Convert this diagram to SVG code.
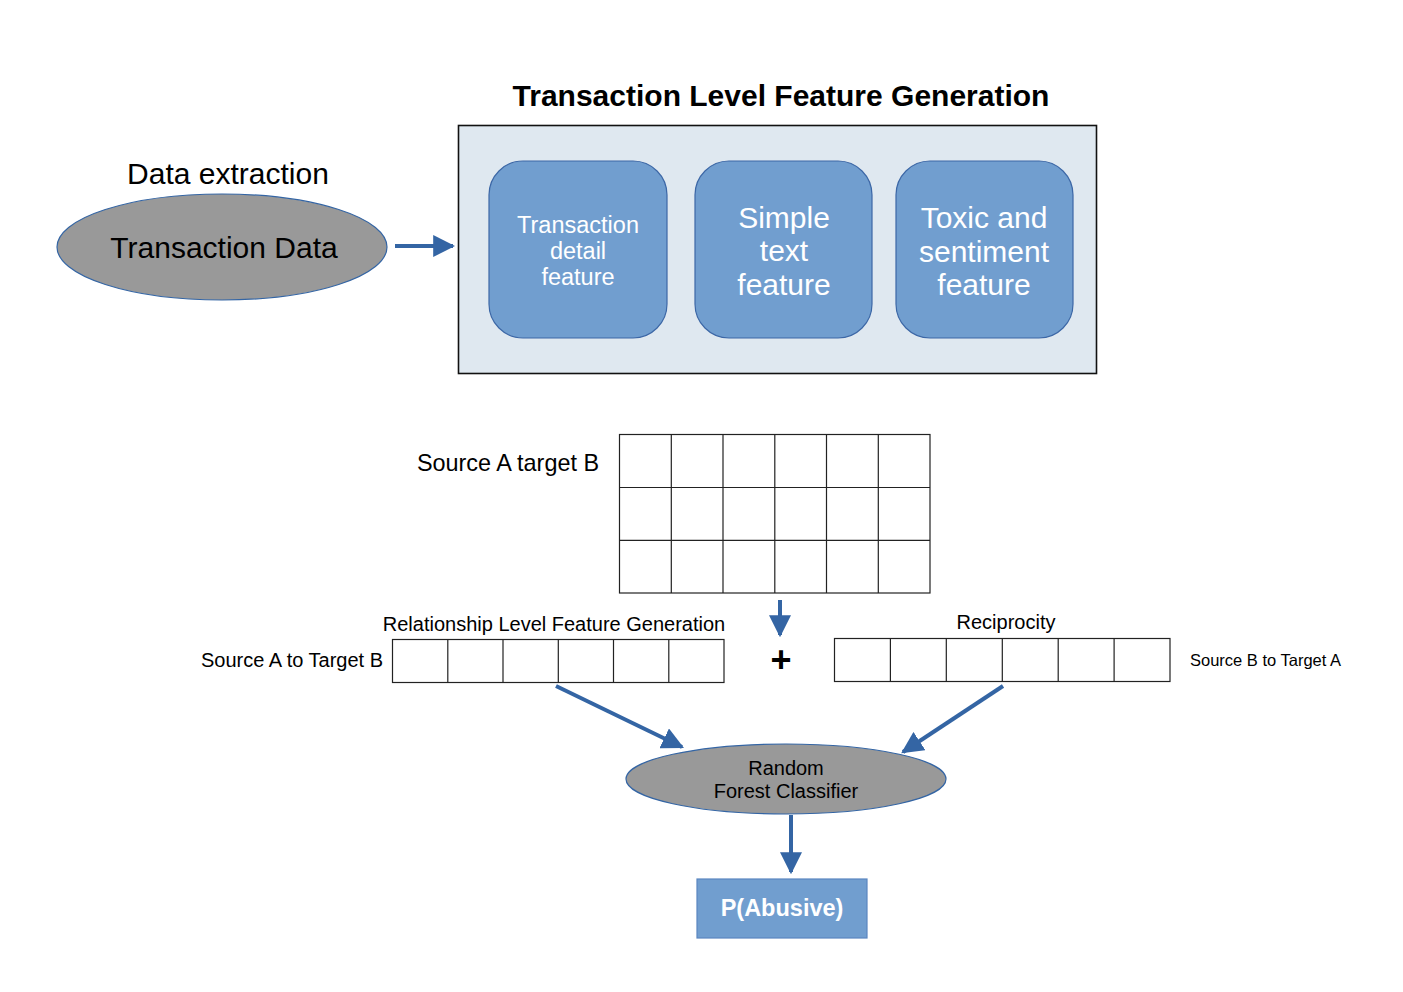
<svg xmlns="http://www.w3.org/2000/svg" width="1403" height="992" viewBox="0 0 1403 992">
<style>
text{font-family:"Liberation Sans",Arial,sans-serif;fill:#000}
.feat{fill:#719ecf;stroke:#3c67a6;stroke-width:1.2}
.wt{fill:#fff;text-anchor:middle}
.cell{fill:#fff;stroke:#222;stroke-width:1.2}
.conn{stroke:#3465a4;stroke-width:4;fill:none}
.ell{fill:#999;stroke:#3465a4;stroke-width:1.2}
</style>
<defs>
<marker id="ah" viewBox="0 0 10 10" refX="9" refY="5" markerWidth="5.5" markerHeight="5.5" markerUnits="strokeWidth" orient="auto">
<path d="M0,0 L10,5 L0,10 Z" fill="#3465a4"/>
</marker>
</defs>
<rect width="1403" height="992" fill="#fff"/>

<g id="title"><text x="781" y="106" font-size="30" font-weight="bold" text-anchor="middle">Transaction Level Feature Generation</text></g>

<g id="transaction-data">
<text x="228" y="184" font-size="30" text-anchor="middle">Data extraction</text>
<ellipse class="ell" cx="222" cy="247" rx="165" ry="53"/>
<text x="224" y="258" font-size="30" text-anchor="middle">Transaction Data</text>
</g>

<g id="feature-box">
<rect x="458.5" y="125.5" width="638" height="248" fill="#dfe8f0" stroke="#111" stroke-width="1.6"/>
</g>
<g id="feat1">
<rect class="feat" x="489" y="161" width="178" height="177" rx="34"/>
<text class="wt" font-size="23.5" x="578" y="233">Transaction</text>
<text class="wt" font-size="23.5" x="578" y="259">detail</text>
<text class="wt" font-size="23.5" x="578" y="285">feature</text>
</g>
<g id="feat2">
<rect class="feat" x="695" y="161" width="177" height="177" rx="34"/>
<text class="wt" font-size="30" x="784" y="228">Simple</text>
<text class="wt" font-size="30" x="784" y="261">text</text>
<text class="wt" font-size="30" x="784" y="295">feature</text>
</g>
<g id="feat3">
<rect class="feat" x="896" y="161" width="177" height="177" rx="34"/>
<text class="wt" font-size="30" x="984" y="228">Toxic and</text>
<text class="wt" font-size="30" x="984" y="262">sentiment</text>
<text class="wt" font-size="30" x="984" y="295">feature</text>
</g>

<g id="matrix">
<text x="599" y="471" font-size="23.4" text-anchor="end">Source A target B</text>
<rect class="cell" x="619.5" y="434.5" width="310.5" height="158.5"/>
<path d="M671.3,434.5V593M723,434.5V593M774.8,434.5V593M826.5,434.5V593M878.3,434.5V593M619.5,487.5H930M619.5,540.3H930" stroke="#222" stroke-width="1.2" fill="none"/>
</g>

<g id="rel-a">
<text x="554" y="631" font-size="20" text-anchor="middle">Relationship Level Feature Generation</text>
<text x="383" y="667" font-size="20" text-anchor="end">Source A to Target B</text>
<rect class="cell" x="392.5" y="639.5" width="331.5" height="43"/>
<path d="M447.8,639.5V682.5M503,639.5V682.5M558.3,639.5V682.5M613.5,639.5V682.5M668.8,639.5V682.5" stroke="#222" stroke-width="1.2" fill="none"/>
</g>

<g id="plus"><text x="781" y="672" font-size="36" font-weight="bold" text-anchor="middle">+</text></g>

<g id="rel-b">
<text x="1006" y="629" font-size="20" text-anchor="middle">Reciprocity</text>
<text x="1190" y="666" font-size="16.5">Source B to Target A</text>
<rect class="cell" x="834.5" y="638.5" width="335.5" height="43"/>
<path d="M890.4,638.5V681.5M946.3,638.5V681.5M1002.3,638.5V681.5M1058.2,638.5V681.5M1114.1,638.5V681.5" stroke="#222" stroke-width="1.2" fill="none"/>
</g>

<g id="classifier">
<ellipse class="ell" cx="786" cy="779" rx="160" ry="35"/>
<text x="786" y="775" font-size="20" text-anchor="middle">Random</text>
<text x="786" y="798" font-size="20" text-anchor="middle">Forest Classifier</text>
</g>

<g id="output">
<rect x="697" y="879" width="170" height="59" fill="#719ecf" stroke="#5a86c0" stroke-width="1.2"/>
<text x="782" y="916" font-size="23.5" font-weight="bold" text-anchor="middle" style="fill:#fff">P(Abusive)</text>
</g>

<g id="connectors">
<line class="conn" x1="395" y1="246" x2="453" y2="246" marker-end="url(#ah)"/>
<line class="conn" x1="780" y1="600" x2="780" y2="635" marker-end="url(#ah)"/>
<line class="conn" x1="556" y1="686" x2="682" y2="747" marker-end="url(#ah)"/>
<line class="conn" x1="1003" y1="686" x2="903" y2="752" marker-end="url(#ah)"/>
<line class="conn" x1="791" y1="815" x2="791" y2="872" marker-end="url(#ah)"/>
</g>
</svg>
